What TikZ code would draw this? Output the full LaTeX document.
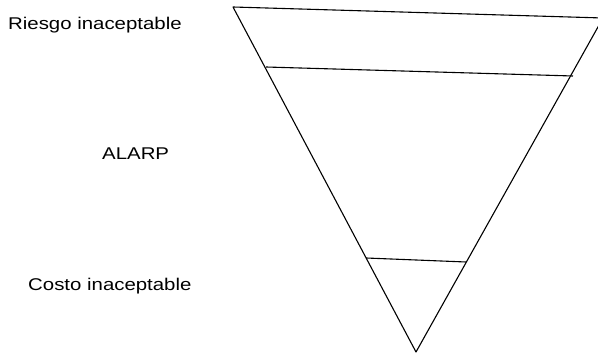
\documentclass[tikz,border=0pt]{standalone}
\usepackage{fontspec}
\newfontfamily\labelfont[FakeStretch=1.2]{Liberation Sans}
\usepackage{tikz}

\begin{document}
\begin{tikzpicture}[x=1pt,y=-1pt,
    edge/.style={black, line width=1.1pt, line join=round},
    zonelabel/.style={anchor=base west, inner sep=0pt, font=\labelfont\fontsize{17}{20}\selectfont}]
  \useasboundingbox (0,0) rectangle (598,355);

  % Triangle corners
  \coordinate (topL) at (233,7);
  \coordinate (topR) at (603,18);
  \coordinate (tip) at (416,352);
  \draw[edge] (topL) -- (topR) -- (tip) -- cycle;

  % Zone boundaries
  \coordinate (upL) at (266,67);
  \coordinate (upR) at (573,76);
  \coordinate (lowL) at (366,258);
  \coordinate (lowR) at (466,262);
  \draw[edge] (upL) -- (upR);
  \draw[edge] (lowL) -- (lowR);

  % Zone labels
  \node[zonelabel] (riesgo) at (8,30) {Riesgo inaceptable};
  \node[zonelabel] (alarp) at (102,160) {ALARP};
  \node[zonelabel] (costo) at (28,291) {Costo inaceptable};
\end{tikzpicture}
\end{document}
